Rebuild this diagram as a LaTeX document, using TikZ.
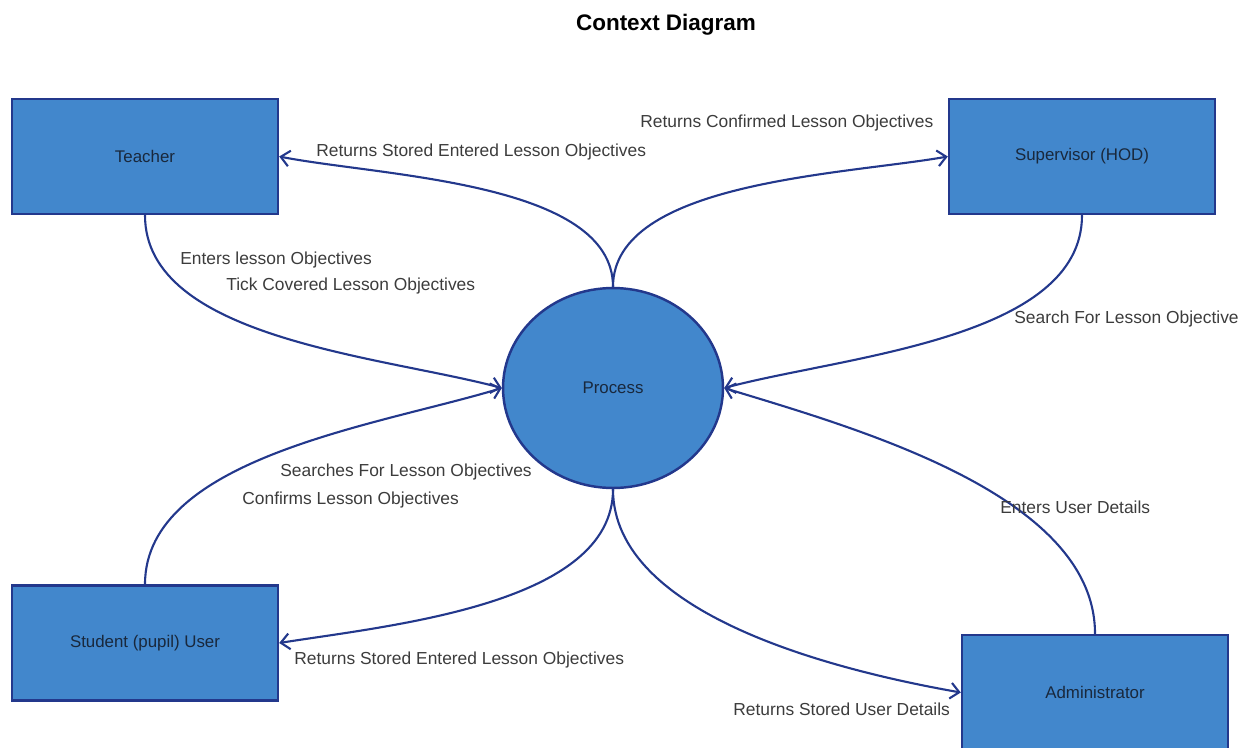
\documentclass[tikz,border=0pt]{standalone}
\usepackage{fontspec}
\setmainfont{Liberation Sans}
\usetikzlibrary{positioning,arrows.meta,shapes.geometric}
\definecolor{entityfill}{RGB}{66,135,204}
\definecolor{entityline}{RGB}{35,56,140}
\definecolor{flowtext}{RGB}{60,60,60}
\definecolor{nametext}{RGB}{25,40,60}

\begin{document}
\begin{tikzpicture}[
  x=0.02cm, y=-0.02cm,
  >={Straight Barb[length=5pt,width=9pt]},
  every node/.style={font=\fontsize{9.6}{11}\selectfont},
  entity/.style={draw=entityline, fill=entityfill, line width=1.4pt, minimum width=5.32cm, minimum height=2.3cm, text=nametext},
  proc/.style={ellipse, draw=entityline, fill=entityfill, line width=1.4pt, minimum width=4.4cm, minimum height=4cm, text=nametext},
  flow/.style={->, line width=1.2pt, draw=entityline, looseness=0.8},
  flowlabel/.style={anchor=west, text=flowtext, inner sep=0pt, font=\fontsize{9.9}{11}\selectfont}
]
\useasboundingbox (0,0) rectangle (1239,747);

\node[font=\bfseries\fontsize{12.8}{15}\selectfont] (title) at (666,25) {Context Diagram};

% entities and the process
\node[entity] (teacher) at (145,156.5) {Teacher};
\node[entity] (supervisor) at (1082,156.5) {Supervisor (HOD)};
\node[entity] (student) at (145,643) {Student (pupil) User};
\node[entity] (admin) at (1095,692.5) {Administrator};
\node[proc] (process) at (613,388) {Process};

% data flows
\draw[flow] (process.north) to[out=90,in=-11,looseness=0.75] (teacher.east);
\draw[flow] (process.north) to[out=90,in=190,looseness=0.75] (supervisor.west);
\draw[flow] (teacher.south) to[out=-90,in=165] (process.west);
\draw[flow] (supervisor.south) to[out=-90,in=15] (process.east);
\draw[flow] (student.north) to[out=90,in=197] (process.west);
\draw[flow] (process.south) to[out=-90,in=9] (student.east);
\draw[flow] (process.south) to[out=-90,in=170] (admin.west);
\draw[flow] (admin.north) to[out=90,in=-17] (process.east);

% flow labels
\node[flowlabel] (lblret) at (316,152) {Returns Stored Entered Lesson Objectives};
\node[flowlabel] (lblconf) at (640,123) {Returns Confirmed Lesson Objectives};
\node[flowlabel] (lblenter) at (180,260) {Enters lesson Objectives};
\node[flowlabel] (lbltick) at (226,286) {Tick Covered Lesson Objectives};
\node[flowlabel] (lblsearch) at (1014,319) {Search For Lesson Objective};
\node[flowlabel] (lblsearches) at (280,472) {Searches For Lesson Objectives};
\node[flowlabel] (lblconfirms) at (242,500) {Confirms Lesson Objectives};
\node[flowlabel] (lblretstu) at (294,660) {Returns Stored Entered Lesson Objectives};
\node[flowlabel] (lbluser) at (1000,507) {Enters User Details};
\node[flowlabel] (lblretuser) at (733,709) {Returns Stored User Details};
\end{tikzpicture}
\end{document}
